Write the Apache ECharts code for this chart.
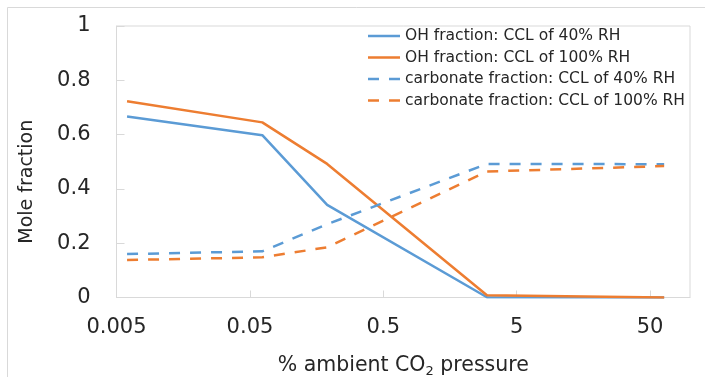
<!DOCTYPE html>
<html>
<head>
<meta charset="utf-8">
<script src="https://cdn.jsdelivr.net/npm/echarts@6/dist/echarts.min.js"></script>
<style>
  html, body { margin: 0; padding: 0; background: #fff; }
  #chart { width: 705px; height: 377px; }
</style>
</head>
<body>
<div id="chart"></div>
<script>
// % ambient CO2 pressure at each measurement
const pressure = [0.006, 0.062, 0.19, 3, 64];
// Mole fractions
const ohRH40 = [0.667, 0.598, 0.341, 0.001, 0.0];
const ohRH100 = [0.723, 0.645, 0.492, 0.008, 0.0];
const carbRH40 = [0.160, 0.170, 0.270, 0.492, 0.491];
const carbRH100 = [0.138, 0.148, 0.185, 0.464, 0.484];
const seriesNames = [
  'OH fraction: CCL of 40% RH',
  'OH fraction: CCL of 100% RH',
  'carbonate fraction: CCL of 40% RH',
  'carbonate fraction: CCL of 100% RH'
];
const xTickValues = [0.005, 0.05, 0.5, 5, 50];
const xTickLabels = ['0.005', '0.05', '0.5', '5', '50'];

const BLUE = '#5B9BD5';
const ORANGE = '#ED7D31';
const FONT = 'DejaVu Sans';
const GRID_LINE = '#d9d9d9';
const TEXT = '#262626';

// legend keys: a solid bar and a two-dash bar
const SOLID_KEY = 'rect';
const DASHED_KEY = 'path://M0,0 L11,0 L11,2.5 L0,2.5 Z M21,0 L32,0 L32,2.5 L21,2.5 Z';

function pairs(ys) { return pressure.map((p, i) => [p, ys[i]]); }

function lineSeries(name, ys, color, dashed) {
  return {
    name: name,
    type: 'line',
    data: pairs(ys),
    symbol: 'none',
    showSymbol: false,
    smooth: false,
    lineStyle: { color: color, width: 2.5, type: dashed ? [11, 10] : 'solid' },
    itemStyle: { color: color },
    emphasis: { disabled: true }
  };
}

// label for a log-axis tick: match it to the nearest decade tick
function xLabel(v, idx) {
  const x = Number(v);
  for (let i = 0; i < xTickValues.length; i++) {
    if (Math.abs(x / xTickValues[i] - 1) < 1e-3) return xTickLabels[i];
  }
  const p = Math.pow(10, x);
  for (let i = 0; i < xTickValues.length; i++) {
    if (Math.abs(p / xTickValues[i] - 1) < 1e-3) return xTickLabels[i];
  }
  return xTickLabels[idx] !== undefined && idx < xTickLabels.length ? xTickLabels[idx] : '';
}

const chart = echarts.init(document.getElementById('chart'), null, { renderer: 'canvas' });
chart.setOption({
  animation: false,
  backgroundColor: '#fff',
  textStyle: { fontFamily: FONT },
  graphic: [{
    type: 'rect',
    shape: { x: 7.5, y: 7.5, width: 730, height: 420 },
    style: { fill: 'none', stroke: GRID_LINE, lineWidth: 1 },
    silent: true,
    z: -10
  }],
  grid: {
    left: 116.5, right: 15, top: 26, bottom: 79.5,
    show: true, borderColor: GRID_LINE, borderWidth: 1, backgroundColor: 'transparent',
    containLabel: false,
    outerBoundsMode: 'none'
  },
  legend: {
    orient: 'vertical',
    left: 368, top: 27,
    padding: 0,
    itemWidth: 32, itemHeight: 2.5, itemGap: 3.5,
    textStyle: { fontFamily: FONT, fontSize: 15.5, color: TEXT, lineHeight: 18 },
    data: [
      { name: seriesNames[0], icon: SOLID_KEY },
      { name: seriesNames[1], icon: SOLID_KEY },
      { name: seriesNames[2], icon: DASHED_KEY },
      { name: seriesNames[3], icon: DASHED_KEY }
    ]
  },
  xAxis: {
    type: 'log',
    logBase: 10,
    min: 0.005,
    max: 100,
    interval: 1,
    name: '% ambient CO{sub|2} pressure',
    nameLocation: 'middle',
    nameGap: 56,
    nameTextStyle: {
      fontFamily: FONT, fontSize: 20.5, color: TEXT,
      rich: { sub: { fontFamily: FONT, fontSize: 13, color: TEXT, verticalAlign: 'bottom', padding: [12, 0, 0, 0] } }
    },
    axisLine: { show: true, lineStyle: { color: GRID_LINE, width: 1 } },
    axisTick: { show: true, inside: true, length: 7, lineStyle: { color: GRID_LINE } },
    splitLine: { show: false },
    minorTick: { show: false },
    axisLabel: {
      fontFamily: FONT, fontSize: 21, color: TEXT, margin: 20,
      showMaxLabel: false,
      formatter: xLabel
    }
  },
  yAxis: {
    type: 'value',
    min: 0, max: 1, interval: 0.2,
    name: 'Mole fraction',
    nameLocation: 'middle',
    nameGap: 80,
    nameRotate: 90,
    nameTextStyle: { fontFamily: FONT, fontSize: 19, color: TEXT, padding: [0, 40, 0, 0] },
    axisLine: { show: true, lineStyle: { color: GRID_LINE, width: 1 } },
    axisTick: { show: true, inside: true, length: 8, lineStyle: { color: GRID_LINE } },
    splitLine: { show: false },
    axisLabel: {
      fontFamily: FONT, fontSize: 21, color: TEXT, margin: 26,
      formatter: function (v) { return String(+Number(v).toFixed(1)); }
    }
  },
  series: [
    lineSeries(seriesNames[0], ohRH40, BLUE, false),
    lineSeries(seriesNames[1], ohRH100, ORANGE, false),
    lineSeries(seriesNames[2], carbRH40, BLUE, true),
    lineSeries(seriesNames[3], carbRH100, ORANGE, true)
  ]
});
</script>
</body>
</html>
